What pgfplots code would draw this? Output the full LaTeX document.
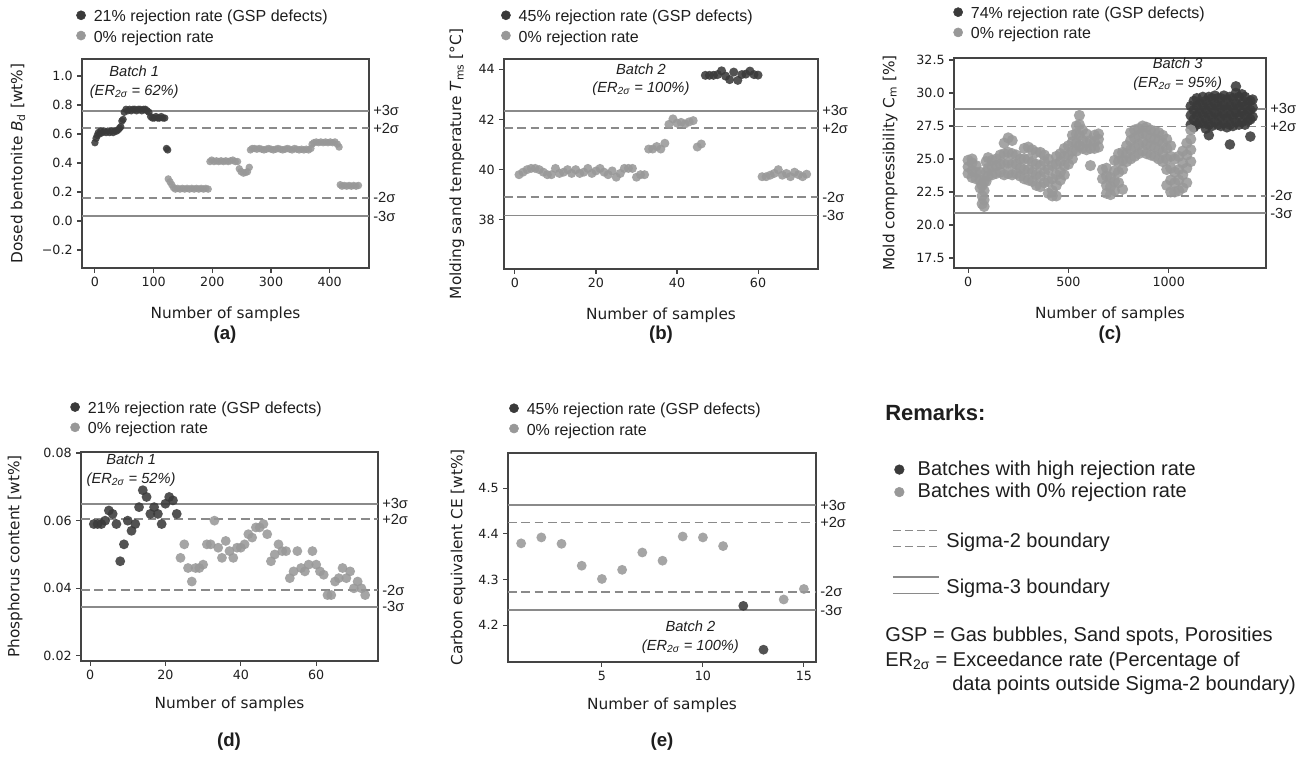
\documentclass[border=0pt]{standalone}
\usepackage{fontspec}
\setmainfont{Liberation Sans}
\newfontfamily\dejavu{DejaVu Sans}
\usepackage{pgfplots}
\pgfplotsset{compat=1.18}

\definecolor{darkpt}{RGB}{58,58,58}
\definecolor{lightpt}{RGB}{152,152,152}
\definecolor{sigline}{RGB}{138,138,138}
\definecolor{framecol}{RGB}{68,68,68}
\definecolor{txt}{RGB}{30,30,30}

\pgfplotsset{
  panel/.style={scale only axis, anchor=north west, clip=false,
    axis line style={framecol, line width=0.9pt},
    tick style={framecol, line width=0.8pt},
    tick align=outside, xtick pos=bottom, ytick pos=left,
    major tick length=3.5pt,
    scaled x ticks=false, scaled y ticks=false,
    tick label style={font=\dejavu\fontsize{9.5}{11}\selectfont, text=txt},
    label style={font=\dejavu\fontsize{11.5}{13}\selectfont, text=txt},
    xlabel={Number of samples},
    legend cell align=left,
    legend style={draw=none, fill=none, inner sep=0pt, row sep=3pt,
      font=\fontsize{12}{14}\selectfont, nodes={inner sep=1pt, text=txt},
      /tikz/every odd column/.append style={column sep=5pt}},
  },
  dk/.style={only marks, mark=*, mark size=#1, color=darkpt,
    mark options={draw opacity=0, fill=darkpt, fill opacity=0.88},
    legend image code/.code={\fill[darkpt] (0pt,1.3pt) circle (3.4pt);}},
  lt/.style={only marks, mark=*, mark size=#1, color=lightpt,
    mark options={draw opacity=0, fill=lightpt, fill opacity=0.88},
    legend image code/.code={\fill[lightpt] (0pt,1.3pt) circle (3.4pt);}},
  s3/.style={sigline, line width=1.3pt, forget plot},
  s2/.style={sigline, line width=1.3pt, dash pattern=on 6.5pt off 3.5pt, forget plot},
}
\tikzset{
  siglab/.style={anchor=west, font=\fontsize{11}{13}\selectfont, inner sep=0pt, xshift=3pt, text=txt},
  ann/.style={font=\itshape\fontsize{11}{14}\selectfont, align=center, text=txt, inner sep=0pt},
  plab/.style={font=\bfseries\fontsize{14}{16}\selectfont, text=txt},
  rem/.style={anchor=west, inner sep=0pt, font=\fontsize{15}{18}\selectfont, text=txt},
}

\begin{document}
\begin{tikzpicture}
\useasboundingbox (0pt,0pt) rectangle (984pt,-567pt);

% ---------------- (a) dosed bentonite
\begin{axis}[panel, at={(61.5pt,-44.25pt)}, width=215.25pt, height=156.75pt,
  xmin=-22, xmax=467, ymin=-0.324, ymax=1.117,
  xtick={0,100,200,300,400}, xticklabels={0,100,200,300,400},
  ytick={-0.2,0,0.2,0.4,0.6,0.8,1.0},
  yticklabels={−0.2,0.0,0.2,0.4,0.6,0.8,1.0},
  ylabel={Dosed bentonite \textit{B}\textsubscript{d} [wt\%]},
  xlabel style={at={(axis description cs:0.5,-0.22)}, anchor=center},
  ylabel style={at={(axis description cs:-0.223,0.5)}, anchor=center},
  legend style={at={(axis description cs:-0.021,1.241)}, anchor=north west}]
\addplot[s3] coordinates {(-22,0.759) (467,0.759)};
\addplot[s2] coordinates {(-22,0.641) (467,0.641)};
\addplot[s2] coordinates {(-22,0.159) (467,0.159)};
\addplot[s3] coordinates {(-22,0.034) (467,0.034)};
\addplot[dk=2.8pt] coordinates {
(0,0.54) (2,0.57) (4,0.59) (6,0.61) (8,0.60) (10,0.62) (13,0.61) (16,0.62) (19,0.61)
(22,0.62) (25,0.61) (28,0.62) (31,0.61) (34,0.62) (37,0.62) (40,0.63) (42,0.64) (44,0.65)
(46,0.69) (48,0.70) (50,0.75) (53,0.77) (56,0.76) (59,0.77) (62,0.76) (65,0.77) (68,0.77)
(71,0.76) (74,0.77) (77,0.77) (80,0.76) (83,0.77) (86,0.77) (89,0.76) (92,0.75) (95,0.72)
(98,0.71) (101,0.71) (104,0.72) (107,0.71) (110,0.71) (113,0.72) (116,0.71) (119,0.71)
(122,0.50) (124,0.49)};
\addlegendentry{21\% rejection rate (GSP defects)}
\addplot[lt=2.8pt] coordinates {
(125,0.29) (128,0.27) (131,0.25) (134,0.23) (137,0.22) (141,0.225) (145,0.22) (149,0.225)
(153,0.22) (157,0.225) (161,0.22) (165,0.225) (169,0.22) (173,0.225) (177,0.22) (181,0.225)
(185,0.22) (189,0.225) (193,0.22) (196,0.41) (199,0.42) (203,0.41) (207,0.415) (211,0.41)
(215,0.415) (219,0.41) (223,0.415) (227,0.41) (231,0.415) (235,0.42) (239,0.41) (243,0.41)
(246,0.36) (249,0.34) (253,0.33) (257,0.335) (260,0.34) (263,0.37) (265,0.49) (268,0.50)
(272,0.50) (276,0.495) (280,0.50) (284,0.495) (288,0.49) (292,0.495) (296,0.50) (300,0.495)
(304,0.49) (308,0.495) (312,0.50) (316,0.495) (320,0.49) (324,0.495) (328,0.50) (332,0.495)
(336,0.49) (340,0.50) (344,0.495) (348,0.49) (352,0.495) (356,0.49) (360,0.495) (364,0.49)
(368,0.50) (370,0.53) (373,0.54) (377,0.545) (381,0.54) (385,0.545) (389,0.54) (393,0.545)
(397,0.54) (401,0.545) (405,0.54) (409,0.545) (413,0.53) (416,0.51) (418,0.25) (421,0.24)
(425,0.245) (429,0.24) (433,0.245) (437,0.24) (441,0.245) (445,0.24) (449,0.245)};
\addlegendentry{0\% rejection rate}
\node[siglab] at (axis cs:467,0.759) {+3σ};
\node[siglab] at (axis cs:467,0.641) {+2σ};
\node[siglab] at (axis cs:467,0.159) {-2σ};
\node[siglab] at (axis cs:467,0.034) {-3σ};
\node[ann] at (axis cs:67,0.955) {Batch 1\\(ER\textsubscript{2σ} = 62\%)};
\end{axis}

% ---------------- (b) molding sand temperature
\begin{axis}[panel, at={(378pt,-44.25pt)}, width=235.5pt, height=157.5pt,
  xmin=-2.7, xmax=74.8, ymin=36.05, ymax=44.4,
  xtick={0,20,40,60}, xticklabels={0,20,40,60},
  ytick={38,40,42,44}, yticklabels={38,40,42,44},
  ylabel={Molding sand temperature \textit{T}\textsubscript{ms} [°C]},
  xlabel style={at={(axis description cs:0.5,-0.22)}, anchor=center},
  ylabel style={at={(axis description cs:-0.15,0.5)}, anchor=center},
  legend style={at={(axis description cs:-0.01,1.24)}, anchor=north west}]
\addplot[s3] coordinates {(-2.7,42.34) (74.8,42.34)};
\addplot[s2] coordinates {(-2.7,41.65) (74.8,41.65)};
\addplot[s2] coordinates {(-2.7,38.9) (74.8,38.9)};
\addplot[s3] coordinates {(-2.7,38.18) (74.8,38.18)};
\addplot[dk=3.4pt] coordinates {
(47,43.75) (48,43.75) (49,43.75) (50,43.78) (51,43.93) (52,43.72) (53,43.58) (54,43.88)
(55,43.55) (56,43.78) (57,43.8) (58,43.92) (59,43.78) (60,43.76)};
\addlegendentry{45\% rejection rate (GSP defects)}
\addplot[lt=3.4pt] coordinates {
(1,39.8) (2,39.9) (3,40.0) (4,40.05) (5,40.05) (6,40.0) (7,39.9) (8,39.8) (9,39.8) (10,40.05)
(11,39.85) (12,39.9) (13,40.0) (14,39.85) (15,40.0) (16,39.85) (17,39.9) (18,40.05) (19,39.85)
(20,39.95) (21,40.05) (22,39.9) (23,39.8) (24,39.95) (25,39.7) (26,39.85) (27,40.05) (28,40.05)
(29,40.05) (30,39.7) (31,39.8) (32,39.8) (33,40.82) (34,40.82) (35,40.92) (36,40.82) (37,41.05)
(38,41.8) (39,42.02) (40,41.85) (41,41.88) (42,41.82) (43,41.9) (44,41.95) (45,40.9) (46,41.02)
(61,39.72) (62,39.72) (63,39.78) (64,39.85) (65,40.0) (66,39.78) (67,39.85) (68,39.72)
(69,39.9) (70,39.8) (71,39.72) (72,39.82)};
\addlegendentry{0\% rejection rate}
\node[siglab] at (axis cs:74.8,42.34) {+3σ};
\node[siglab] at (axis cs:74.8,41.65) {+2σ};
\node[siglab] at (axis cs:74.8,38.9) {-2σ};
\node[siglab] at (axis cs:74.8,38.18) {-3σ};
\node[ann] at (axis cs:31.1,43.58) {Batch 2\\(ER\textsubscript{2σ} = 100\%)};
\end{axis}

% ---------------- (c) mold compressibility
\begin{axis}[panel, at={(715.5pt,-43.5pt)}, width=234pt, height=157.5pt,
  xmin=-70, xmax=1485, ymin=16.74, ymax=32.65,
  xtick={0,500,1000}, xticklabels={0,500,1000},
  ytick={17.5,20,22.5,25,27.5,30,32.5},
  yticklabels={17.5,20.0,22.5,25.0,27.5,30.0,32.5},
  ylabel={Mold compressibility C\textsubscript{m} [\%]},
  xlabel style={at={(axis description cs:0.5,-0.22)}, anchor=center},
  ylabel style={at={(axis description cs:-0.205,0.5)}, anchor=center},
  legend style={at={(axis description cs:-0.003,1.25)}, anchor=north west}]
\addplot[s3] coordinates {(-70,28.79) (1485,28.79)};
\addplot[s2] coordinates {(-70,27.47) (1485,27.47)};
\addplot[s2] coordinates {(-70,22.22) (1485,22.22)};
\addplot[s3] coordinates {(-70,20.89) (1485,20.89)};
\addplot[dk=4pt] coordinates {
(1110,27.6) (1110,28.3) (1110,29.0)
(1125,27.4) (1125,28.0) (1125,28.7) (1125,29.4)
(1140,27.6) (1140,28.3) (1140,29.0) (1140,29.6)
(1155,27.8) (1155,28.5) (1155,29.2)
(1170,27.7) (1170,28.4) (1170,29.1) (1170,29.7)
(1185,27.3) (1185,28.0) (1185,28.7) (1185,29.4)
(1200,26.8) (1200,27.6) (1200,28.3) (1200,29.0) (1200,29.7)
(1215,27.5) (1215,28.2) (1215,28.9) (1215,29.6)
(1230,27.8) (1230,28.5) (1230,29.2) (1230,29.8)
(1245,27.6) (1245,28.3) (1245,29.0) (1245,29.6)
(1260,27.5) (1260,28.2) (1260,28.9) (1260,29.6)
(1275,27.7) (1275,28.4) (1275,29.1) (1275,29.8)
(1290,27.4) (1290,28.1) (1290,28.8) (1290,29.5)
(1305,26.1) (1305,27.6) (1305,28.3) (1305,29.0) (1305,29.7)
(1320,27.5) (1320,28.2) (1320,28.9) (1320,29.6)
(1335,27.8) (1335,28.5) (1335,29.2) (1335,30.0) (1335,30.5)
(1350,27.6) (1350,28.3) (1350,29.0) (1350,29.7)
(1365,27.8) (1365,28.5) (1365,29.2) (1365,29.9)
(1380,27.6) (1380,28.3) (1380,29.0) (1380,29.7)
(1395,27.9) (1395,28.6) (1395,29.3)
(1407,26.7) (1407,28.0) (1407,28.7) (1407,29.4)
(1418,28.2) (1418,28.9) (1418,29.5)};
\addlegendentry{74\% rejection rate (GSP defects)}
\addplot[lt=4.2pt] coordinates {
(0,23.9) (0,24.4) (0,24.9)
(20,23.6) (20,24.1) (20,24.7) (20,25.0)
(40,23.5) (40,24.0) (40,24.5)
(60,22.8) (60,23.4) (60,24.0)
(70,21.6) (70,22.2) (70,23.0)
(80,21.4) (80,21.9) (80,22.6) (80,23.3)
(90,23.3) (90,24.0) (90,24.8)
(100,23.7) (100,24.3) (100,25.1)
(120,23.8) (120,24.4) (120,24.9)
(140,23.9) (140,24.5) (140,25.0)
(160,24.0) (160,24.6) (160,25.3)
(180,23.8) (180,24.6) (180,25.4) (180,26.2)
(200,23.9) (200,24.7) (200,25.5) (200,26.6)
(220,23.8) (220,24.6) (220,25.4) (220,26.4)
(240,23.9) (240,24.6) (240,25.3)
(260,23.7) (260,24.3) (260,25.0)
(280,23.5) (280,24.2) (280,25.0) (280,25.8)
(300,23.4) (300,24.2) (300,25.0) (300,25.9)
(320,23.3) (320,24.0) (320,24.8) (320,25.7)
(340,23.0) (340,23.8) (340,24.6) (340,25.5)
(360,22.9) (360,23.7) (360,24.5) (360,25.5)
(380,23.2) (380,24.0) (380,24.8) (380,25.3)
(400,22.4) (400,23.3) (400,24.2) (400,25.0)
(420,22.2) (420,22.6) (420,23.5) (420,24.5)
(440,22.2) (440,23.0) (440,23.8) (440,24.6) (440,25.2)
(460,23.4) (460,24.0) (460,24.8) (460,25.4)
(480,23.8) (480,24.5) (480,25.2) (480,25.8)
(500,24.6) (500,25.3) (500,26.0)
(520,25.0) (520,25.6) (520,26.3) (520,26.8)
(540,25.6) (540,26.2) (540,26.9) (540,27.5)
(555,26.0) (555,26.8) (555,27.6) (555,28.3)
(570,25.8) (570,26.4) (570,27.2)
(590,25.7) (590,26.2) (590,26.9)
(610,24.5) (610,25.8) (610,26.4)
(630,25.8) (630,26.3) (630,26.8)
(650,25.9) (650,26.5) (650,26.9)
(670,23.5) (670,24.2)
(690,22.4) (690,23.0) (690,23.7) (690,24.3)
(710,22.3) (710,22.9) (710,23.6)
(730,22.6) (730,23.3) (730,24.1) (730,24.9)
(750,23.2) (750,24.0) (750,24.8) (750,25.4)
(770,22.7) (770,24.2) (770,24.9) (770,25.5)
(790,24.8) (790,25.4) (790,26.0)
(810,25.0) (810,25.7) (810,26.4) (810,27.0)
(830,25.2) (830,25.9) (830,26.6) (830,27.2)
(850,25.4) (850,26.1) (850,26.8) (850,27.3)
(870,25.6) (870,26.3) (870,27.0) (870,27.5)
(890,25.4) (890,26.1) (890,26.8) (890,27.4)
(910,25.3) (910,26.0) (910,26.6) (910,27.2)
(930,25.2) (930,25.9) (930,26.5) (930,27.1)
(950,25.0) (950,25.7) (950,26.4) (950,27.0)
(970,24.8) (970,25.5) (970,26.2) (970,26.8)
(990,23.0) (990,24.2) (990,25.0) (990,25.8) (990,26.5)
(1010,22.5) (1010,23.4) (1010,24.3) (1010,25.2) (1010,26.0)
(1030,22.5) (1030,23.2) (1030,24.0) (1030,25.0)
(1050,22.6) (1050,23.4) (1050,24.2) (1050,25.2)
(1070,22.8) (1070,23.8) (1070,24.7) (1070,25.6)
(1090,23.2) (1090,24.3) (1090,25.3) (1090,26.2)
(1110,24.8) (1110,25.7) (1110,26.5) (1110,27.2)};
\addlegendentry{0\% rejection rate}
\node[siglab] at (axis cs:1485,28.79) {+3σ};
\node[siglab] at (axis cs:1485,27.47) {+2σ};
\node[siglab] at (axis cs:1485,22.22) {-2σ};
\node[siglab] at (axis cs:1485,20.89) {-3σ};
\node[ann] at (axis cs:1045,31.44) {Batch 3\\(ER\textsubscript{2σ} = 95\%)};
\end{axis}

% ---------------- (d) phosphorus content
\begin{axis}[panel, at={(60.75pt,-339pt)}, width=222.75pt, height=156.75pt,
  xmin=-2.4, xmax=76.4, ymin=0.0185, ymax=0.0803,
  xtick={0,20,40,60}, xticklabels={0,20,40,60},
  ytick={0.02,0.04,0.06,0.08}, yticklabels={0.02,0.04,0.06,0.08},
  ylabel={Phosphorus content [wt\%]},
  xlabel style={at={(axis description cs:0.5,-0.206)}, anchor=center},
  ylabel style={at={(axis description cs:-0.222,0.5)}, anchor=center},
  legend style={at={(axis description cs:-0.037,1.247)}, anchor=north west}]
\addplot[s3] coordinates {(-2.4,0.065) (76.4,0.065)};
\addplot[s2] coordinates {(-2.4,0.0604) (76.4,0.0604)};
\addplot[s2] coordinates {(-2.4,0.0395) (76.4,0.0395)};
\addplot[s3] coordinates {(-2.4,0.0345) (76.4,0.0345)};
\addplot[dk=3.7pt] coordinates {
(1,0.059) (2,0.059) (3,0.059) (4,0.060) (5,0.063) (6,0.062) (7,0.059) (8,0.048) (9,0.053)
(10,0.060) (11,0.057) (12,0.059) (13,0.064) (14,0.069) (15,0.067) (16,0.062) (17,0.064)
(18,0.062) (19,0.059) (20,0.065) (21,0.067) (22,0.066) (23,0.062)};
\addlegendentry{21\% rejection rate (GSP defects)}
\addplot[lt=3.7pt] coordinates {
(24,0.049) (25,0.053) (26,0.046) (27,0.042) (28,0.046) (29,0.046) (30,0.047) (31,0.053)
(32,0.053) (33,0.060) (34,0.052) (35,0.049) (36,0.054) (37,0.051) (38,0.049) (39,0.052)
(40,0.052) (41,0.053) (42,0.056) (43,0.055) (44,0.058) (45,0.058) (46,0.059) (47,0.056)
(48,0.048) (49,0.050) (50,0.053) (51,0.051) (52,0.051) (53,0.043) (54,0.045) (55,0.051)
(56,0.046) (57,0.045) (58,0.047) (59,0.051) (60,0.047) (61,0.045) (62,0.044) (63,0.038)
(64,0.038) (65,0.042) (66,0.043) (67,0.046) (68,0.043) (69,0.045) (70,0.040) (71,0.042)
(72,0.040) (73,0.038)};
\addlegendentry{0\% rejection rate}
\node[siglab] at (axis cs:76.4,0.065) {+3σ};
\node[siglab] at (axis cs:76.4,0.0604) {+2σ};
\node[siglab] at (axis cs:76.4,0.0395) {-2σ};
\node[siglab] at (axis cs:76.4,0.0345) {-3σ};
\node[ann] at (axis cs:10.9,0.075) {Batch 1\\(ER\textsubscript{2σ} = 52\%)};
\end{axis}

% ---------------- (e) carbon equivalent
\begin{axis}[panel, at={(381pt,-339.75pt)}, width=231pt, height=156.75pt,
  xmin=0.35, xmax=15.6, ymin=4.119, ymax=4.577,
  xtick={5,10,15}, xticklabels={5,10,15},
  ytick={4.2,4.3,4.4,4.5}, yticklabels={4.2,4.3,4.4,4.5},
  ylabel={Carbon equivalent CE [wt\%]},
  xlabel style={at={(axis description cs:0.5,-0.206)}, anchor=center},
  ylabel style={at={(axis description cs:-0.162,0.5)}, anchor=center},
  legend style={at={(axis description cs:0.003,1.246)}, anchor=north west}]
\addplot[s3] coordinates {(0.35,4.463) (15.6,4.463)};
\addplot[s2] coordinates {(0.35,4.425) (15.6,4.425)};
\addplot[s2] coordinates {(0.35,4.273) (15.6,4.273)};
\addplot[s3] coordinates {(0.35,4.233) (15.6,4.233)};
\addplot[dk=3.7pt] coordinates {(12,4.242) (13,4.146)};
\addlegendentry{45\% rejection rate (GSP defects)}
\addplot[lt=3.7pt] coordinates {
(1,4.379) (2,4.392) (3,4.378) (4,4.330) (5,4.301) (6,4.321) (7,4.359) (8,4.341)
(9,4.394) (10,4.392) (11,4.373) (14,4.256) (15,4.279)};
\addlegendentry{0\% rejection rate}
\node[siglab] at (axis cs:15.6,4.463) {+3σ};
\node[siglab] at (axis cs:15.6,4.425) {+2σ};
\node[siglab] at (axis cs:15.6,4.273) {-2σ};
\node[siglab] at (axis cs:15.6,4.233) {-3σ};
\node[ann] at (axis cs:9.38,4.174) {Batch 2\\(ER\textsubscript{2σ} = 100\%)};
\end{axis}

% ---------------- remarks: marker legend
\begin{axis}[hide axis, scale only axis, width=5pt, height=5pt,
  at={(670.5pt,-344.5pt)}, anchor=north west, xmin=0, xmax=1, ymin=0, ymax=1,
  legend cell align=left,
  legend style={at={(0,1)}, anchor=north west, draw=none, fill=none, inner sep=0pt,
    row sep=2.5pt, font=\fontsize{15}{18}\selectfont, nodes={inner sep=1pt, text=txt},
    /tikz/every odd column/.append style={column sep=9pt}}]
\addlegendimage{legend image code/.code={\fill[darkpt] (0pt,-0.3pt) circle (3.6pt);}}
\addlegendentry{Batches with high rejection rate}
\addlegendimage{legend image code/.code={\fill[lightpt] (0pt,-0.3pt) circle (3.6pt);}}
\addlegendentry{Batches with 0\% rejection rate}
\end{axis}

% ---------------- remarks: boundary legend
\begin{axis}[hide axis, scale only axis, width=5pt, height=5pt,
  at={(668.8pt,-397pt)}, anchor=north west, xmin=0, xmax=1, ymin=0, ymax=1,
  legend cell align=left,
  legend style={at={(0,1)}, anchor=north west, draw=none, fill=none, inner sep=0pt,
    row sep=19pt, font=\fontsize{15}{18}\selectfont, nodes={inner sep=1pt, text=txt},
    /tikz/every odd column/.append style={column sep=4pt}}]
\addlegendimage{legend image code/.code={
  \draw[sigline, line width=1.3pt, dash pattern=on 6pt off 3pt] (0pt,8pt) -- (33pt,8pt);
  \draw[sigline, line width=1.3pt, dash pattern=on 6pt off 3pt] (0pt,-4pt) -- (33pt,-4pt);}}
\addlegendentry{Sigma-2 boundary}
\addlegendimage{legend image code/.code={
  \draw[sigline, line width=1.3pt] (0pt,8pt) -- (34.5pt,8pt);
  \draw[sigline, line width=1.3pt] (0pt,-4.5pt) -- (34.5pt,-4.5pt);}}
\addlegendentry{Sigma-3 boundary}
\end{axis}

\node[anchor=west, inner sep=0pt, font=\bfseries\fontsize{16.5}{19}\selectfont, text=txt] at (663.75pt,-309.75pt) {Remarks:};
\node[rem] at (663.75pt,-477.5pt) {GSP = Gas bubbles, Sand spots, Porosities};
\node[rem] at (663.75pt,-496pt) {ER\textsubscript{2σ} = Exceedance rate (Percentage of};
\node[rem] at (714pt,-514pt) {data points outside Sigma-2 boundary)};

% ---------------- panel labels
\node[plab] at (168.75pt,-251pt) {(a)};
\node[plab] at (495.75pt,-251pt) {(b)};
\node[plab] at (832.5pt,-251pt) {(c)};
\node[plab] at (171.75pt,-556.5pt) {(d)};
\node[plab] at (496.5pt,-556.5pt) {(e)};
\end{tikzpicture}
\end{document}
